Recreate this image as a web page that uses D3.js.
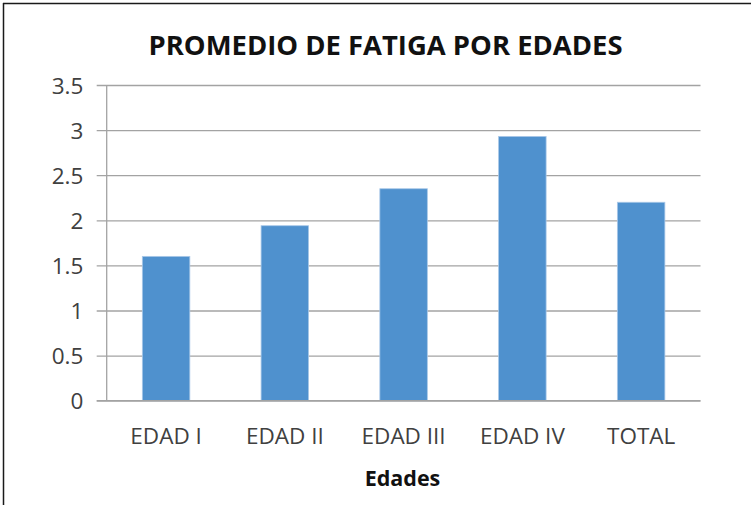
<!DOCTYPE html>
<html>
<head>
<meta charset="utf-8">
<script src="https://cdn.jsdelivr.net/npm/d3@7"></script>
<style>
  html, body { margin: 0; padding: 0; background: #fff; }
  svg { display: block; }
</style>
</head>
<body>
<svg id="chart" width="754" height="505"></svg>
<script>
const categories = ["EDAD I", "EDAD II", "EDAD III", "EDAD IV", "TOTAL"];
const values = [1.6, 1.94, 2.35, 2.93, 2.2];
const yTicks = [0, 0.5, 1, 1.5, 2, 2.5, 3, 3.5];
const yTickLabels = ["0", "0.5", "1", "1.5", "2", "2.5", "3", "3.5"];
const title = "PROMEDIO DE FATIGA POR EDADES";
const xTitle = "Edades";

const svg = d3.select("#chart");
const W = 754, H = 505;
svg.append("rect").attr("width", W).attr("height", H).attr("fill", "#fff");

// frame (only top and left visible)
svg.append("line").attr("x1", 3).attr("x2", 751).attr("y1", 3.5).attr("y2", 3.5)
  .attr("stroke", "#1a1a1a").attr("stroke-width", 1.5);
svg.append("line").attr("x1", 3.5).attr("x2", 3.5).attr("y1", 3).attr("y2", H)
  .attr("stroke", "#1a1a1a").attr("stroke-width", 1.5);

const plotLeft = 106.7, plotRight = 700.5, plotTop = 85, plotBottom = 400.7;
const tickLeft = 96.7;

const x = d3.scaleBand().domain(categories).range([plotLeft, plotRight])
  .paddingInner(0.6).paddingOuter(0.3);
const y = d3.scaleLinear().domain([0, 3.5]).range([plotBottom, plotTop]);

const font = "'Open Sans', 'Liberation Sans', sans-serif";
const gridColor = "#a3a3a3";

// y axis with gridlines
const yAxis = d3.axisLeft(y)
  .tickValues(yTicks)
  .tickFormat((d, i) => yTickLabels[i])
  .tickSize(-(plotRight - tickLeft))
  .tickPadding(13.4);
const gy = svg.append("g").attr("transform", `translate(${tickLeft},0)`).call(yAxis);
gy.select(".domain").remove();
gy.selectAll(".tick line").attr("stroke", gridColor).attr("stroke-width", 1.3);
gy.selectAll(".tick text")
  .attr("fill", "#404040")
  .style("font-family", font)
  .style("font-size", "22.5px")
  .attr("dy", "0.36em");

// y axis vertical line
svg.append("line").attr("x1", plotLeft).attr("x2", plotLeft)
  .attr("y1", plotTop).attr("y2", plotBottom)
  .attr("stroke", gridColor).attr("stroke-width", 1.3);

// bars
svg.append("g").selectAll("rect").data(categories).join("rect")
  .attr("x", d => x(d))
  .attr("width", x.bandwidth())
  .attr("y", (d, i) => y(values[i]))
  .attr("height", (d, i) => y(0) - y(values[i]))
  .attr("fill", "#4f91ce")
  .attr("stroke", "#a9c8e8")
  .attr("stroke-width", 0.8);

// x axis line (redraw on top)
svg.append("line").attr("x1", tickLeft).attr("x2", plotRight)
  .attr("y1", plotBottom).attr("y2", plotBottom)
  .attr("stroke", gridColor).attr("stroke-width", 1.3);

// x axis labels
const xAxis = d3.axisBottom(x).tickSize(0).tickPadding(0);
const gx = svg.append("g").attr("transform", `translate(0,${plotBottom})`).call(xAxis);
gx.select(".domain").remove();
gx.selectAll(".tick text")
  .attr("y", 43.6).attr("dy", 0)
  .attr("fill", "#404040")
  .style("font-family", font)
  .style("font-size", "22.5px");

// title
svg.append("text")
  .attr("x", 385.5).attr("y", 55)
  .attr("text-anchor", "middle")
  .attr("fill", "#111")
  .style("font-family", font)
  .style("font-weight", "700")
  .style("font-size", "27px")
  .attr("textLength", 474)
  .attr("lengthAdjust", "spacingAndGlyphs")
  .text(title);

// x axis title
svg.append("text")
  .attr("x", 402.5).attr("y", 486)
  .attr("text-anchor", "middle")
  .attr("fill", "#111")
  .style("font-family", font)
  .style("font-weight", "700")
  .style("font-size", "21.5px")
  .text(xTitle);
</script>
</body>
</html>
